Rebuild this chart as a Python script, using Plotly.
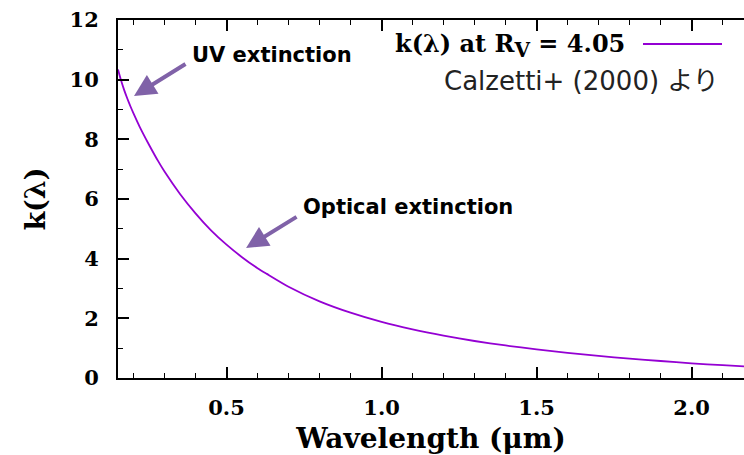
import plotly.graph_objects as go

# Data (Calzetti+ 2000 curve, R_V = 4.05)
wavelength_um = [0.15, 0.16, 0.17, 0.18, 0.19, 0.20, 0.22, 0.25, 0.28, 0.30, 0.35, 0.40,
                 0.45, 0.50, 0.55, 0.60, 0.63, 0.70, 0.80, 0.90, 1.00, 1.10, 1.20,
                 1.30, 1.40, 1.50, 1.60, 1.70, 1.80, 1.90, 2.00, 2.10, 2.20]
k_lambda = [10.34, 9.97, 9.65, 9.37, 9.11, 8.87, 8.42, 7.82, 7.26, 6.92, 6.17, 5.52,
            4.95, 4.47, 4.05, 3.68, 3.49, 3.06, 2.57, 2.19, 1.88, 1.63, 1.42,
            1.24, 1.09, 0.96, 0.84, 0.74, 0.65, 0.57, 0.49, 0.43, 0.37]

x_tick_vals = [0.5, 1.0, 1.5, 2.0]
x_tick_text = ["0.5", "1.0", "1.5", "2.0"]
y_tick_vals = [0, 2, 4, 6, 8, 10, 12]
y_tick_text = ["0", "2", "4", "6", "8", "10", "12"]

# annotation anchors (data coords of arrow heads)
uv_point = (0.2016, 9.45)
opt_point = (0.563, 4.36)

LINE_COLOR = "#9400D3"
ARROW_COLOR = "#8062a8"
SERIF = "DejaVu Serif"
SANS = "DejaVu Sans, Noto Sans CJK JP"

W, H = 744, 455
ML, MR, MT, MB = 118, 0, 20, 77
PW, PH = W - ML - MR, H - MT - MB


def px(xpix):
    return (xpix - ML) / PW


def py(ypix):
    return (H - MB - ypix) / PH


fig = go.Figure()
fig.add_trace(go.Scatter(
    x=wavelength_um, y=k_lambda, mode="lines",
    line=dict(color=LINE_COLOR, width=1.8, shape="spline", smoothing=0.6),
    showlegend=False, hoverinfo="skip",
))

annotations = [
    # arrows
    dict(x=uv_point[0], y=uv_point[1], xref="x", yref="y", text="", showarrow=True,
         ax=53, ay=-33, arrowcolor=ARROW_COLOR, arrowwidth=4, arrowhead=2, arrowsize=1.1,
         standoff=0, startstandoff=0),
    dict(x=opt_point[0], y=opt_point[1], xref="x", yref="y", text="", showarrow=True,
         ax=52, ay=-32, arrowcolor=ARROW_COLOR, arrowwidth=4, arrowhead=2, arrowsize=1.1,
         standoff=0, startstandoff=0),
    # labels
    dict(x=px(190), y=py(55), xref="paper", yref="paper", text="UV extinction",
         showarrow=False, xanchor="left", yanchor="middle",
         font=dict(family=SANS, size=21, color="black", weight="bold")),
    dict(x=px(301), y=py(207), xref="paper", yref="paper", text="Optical extinction",
         showarrow=False, xanchor="left", yanchor="middle",
         font=dict(family=SANS, size=21, color="black", weight="bold")),
    # legend
    dict(x=px(627), y=py(46), xref="paper", yref="paper",
         text="k(λ) at R<sub><span style='font-size:20px'>V</span></sub> = 4.05",
         showarrow=False, xanchor="right", yanchor="middle",
         font=dict(family=SERIF, size=24, color="black", weight="bold")),
    dict(x=px(721), y=py(81), xref="paper", yref="paper",
         text="Calzetti+ (2000) より",
         showarrow=False, xanchor="right", yanchor="middle",
         font=dict(family=SANS, size=26, color="#222222")),
]

fig.update_layout(
    width=W, height=H,
    margin=dict(l=ML, r=MR, t=MT, b=MB, pad=0),
    paper_bgcolor="white", plot_bgcolor="white",
    annotations=annotations,
    shapes=[dict(type="line", xref="paper", yref="paper",
                 x0=px(643), x1=px(722), y0=py(44), y1=py(44),
                 line=dict(color=LINE_COLOR, width=2))],
    xaxis=dict(
        range=[0.15, 2.169], tickvals=x_tick_vals, ticktext=x_tick_text,
        ticks="inside", ticklen=11, tickwidth=1.5, tickcolor="black",
        showline=True, linecolor="black", linewidth=2, mirror="ticks",
        showgrid=False, zeroline=False,
        minor=dict(dtick=0.1, tick0=0, ticks="inside", ticklen=5, tickwidth=1.2,
                   tickcolor="black", showgrid=False),
        tickfont=dict(family=SERIF, size=21, color="black", weight="bold"),
        ticklabelstandoff=10,
        title=dict(text="Wavelength (μm)", standoff=10,
                   font=dict(family=SERIF, size=28, color="black", weight="bold")),
    ),
    yaxis=dict(
        range=[0, 12], tickvals=y_tick_vals, ticktext=y_tick_text,
        ticks="inside", ticklen=11, tickwidth=1.5, tickcolor="black",
        showline=True, linecolor="black", linewidth=2, mirror=False,
        showgrid=False, zeroline=False,
        minor=dict(dtick=1, ticks="inside", ticklen=5, tickwidth=1.2,
                   tickcolor="black", showgrid=False),
        tickfont=dict(family=SERIF, size=21, color="black", weight="bold"),
        ticklabelstandoff=13,
        title=dict(text="k(λ)", standoff=16,
                   font=dict(family=SERIF, size=27, color="black", weight="bold")),
    ),
)

fig.write_html("out.html")
